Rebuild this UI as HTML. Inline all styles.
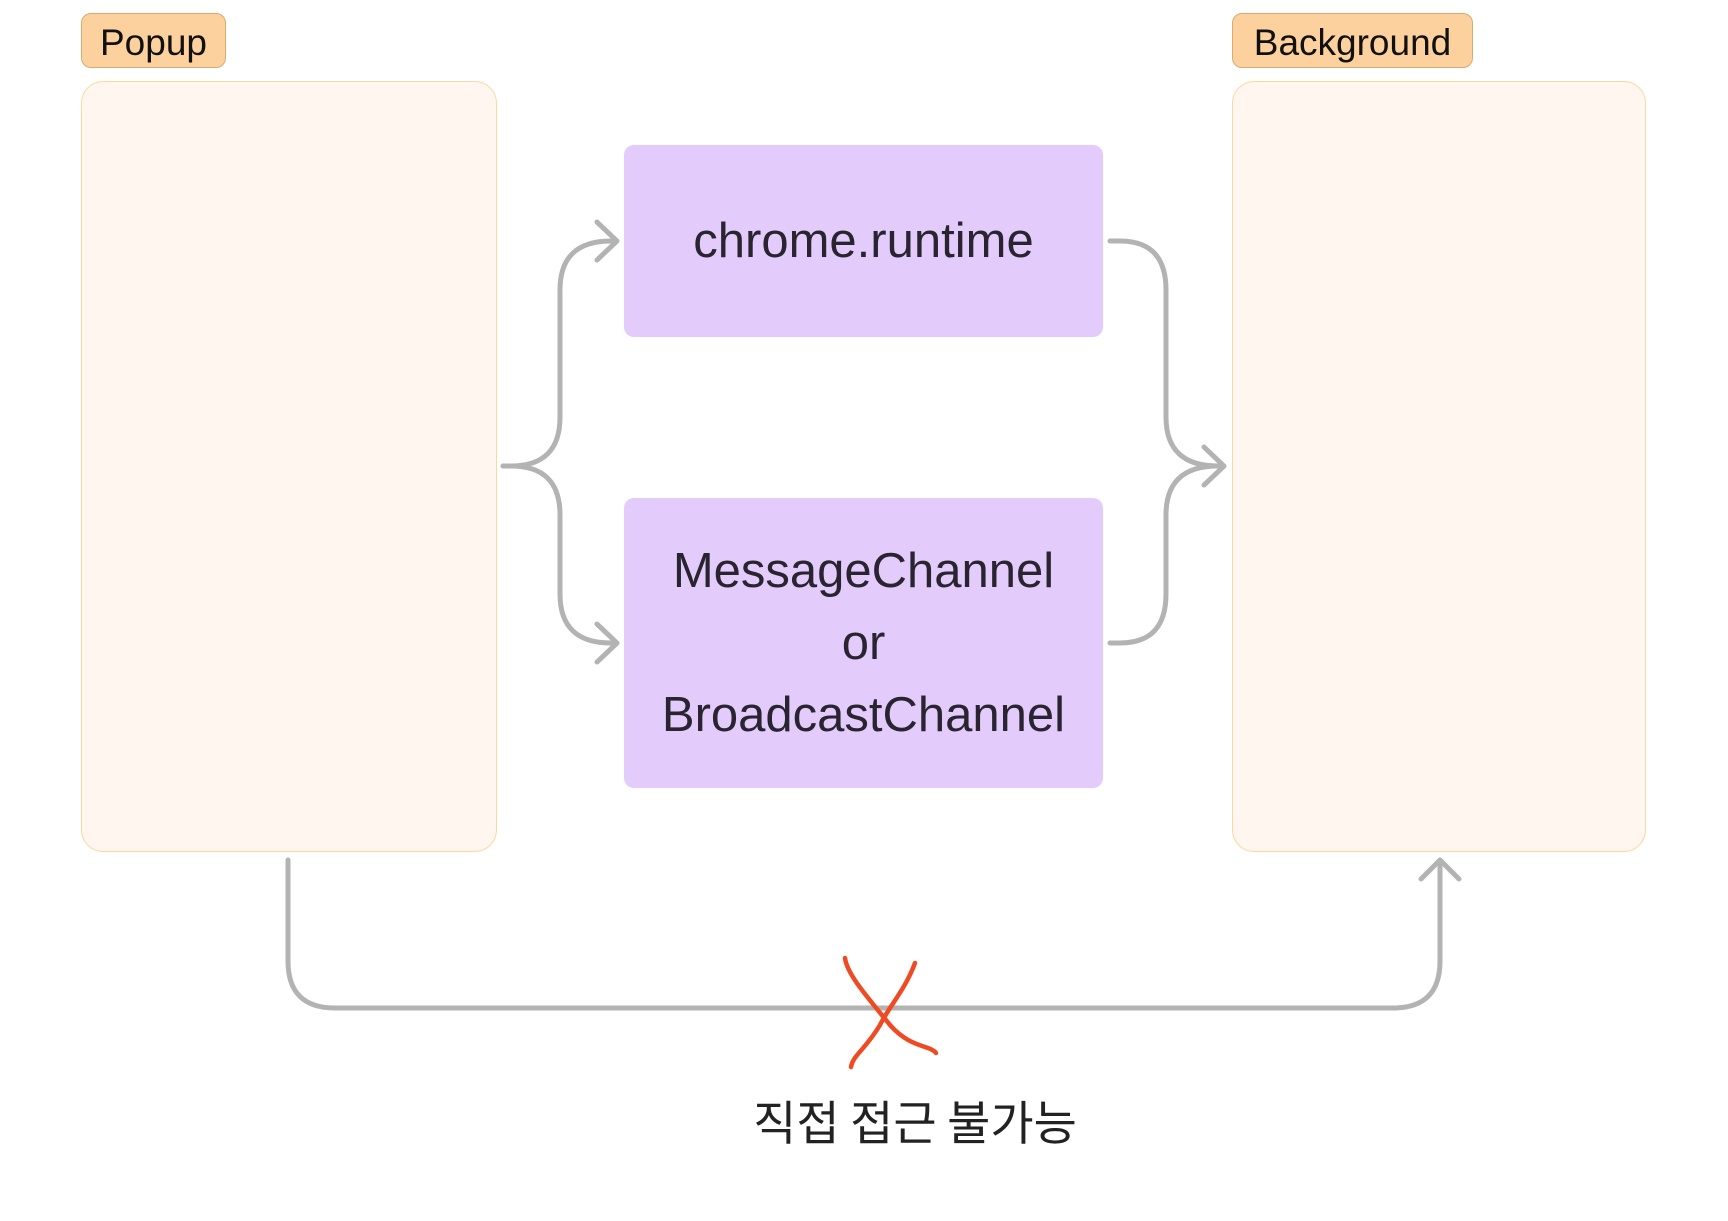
<!DOCTYPE html>
<html><head><meta charset="utf-8"><style>
html,body{margin:0;padding:0;background:#fff;}
body{width:1728px;height:1221px;position:relative;overflow:hidden;font-family:"Liberation Sans","Noto Sans CJK KR",sans-serif;}
.lbl{position:absolute;background:#fdd19d;border:1.5px solid #d9aa72;border-radius:10px;box-sizing:border-box;font-size:37px;color:#111;display:flex;align-items:center;justify-content:center;padding-top:4px;}
.box{position:absolute;background:#fff6f0;border:1.5px solid #fdd6a0;border-radius:22px;box-sizing:border-box;}
.p{position:absolute;background:#e3ccfc;border-radius:10px;display:flex;align-items:center;justify-content:center;text-align:center;font-size:49px;color:#2a2430;line-height:72px;}
</style></head><body>
<div class="lbl" style="left:81px;top:13px;width:145px;height:55px;">Popup</div>
<div class="lbl" style="left:1232px;top:13px;width:241px;height:55px;">Background</div>
<div class="box" style="left:81px;top:81px;width:416px;height:771px;"></div>
<div class="box" style="left:1232px;top:81px;width:414px;height:771px;"></div>
<div class="p" style="left:624px;top:145px;width:479px;height:192px;">chrome.runtime</div>
<div class="p" style="left:624px;top:498px;width:479px;height:290px;">MessageChannel<br>or<br>BroadcastChannel</div>
<svg width="1728" height="1221" style="position:absolute;left:0;top:0" fill="none" stroke="#b3b3b3" stroke-width="5" stroke-linecap="round" stroke-linejoin="round">
<path d="M503 466 H511 Q560 466 560 417 V290 Q560 241 611 241"/>
<path d="M597 222 L617 241 L597 260"/>
<path d="M503 466 H511 Q560 466 560 515 V594 Q560 643 611 643"/>
<path d="M597 624 L617 643 L597 662"/>
<path d="M1110 241 H1120 Q1166 241 1166 290 V417 Q1166 466 1218 466"/>
<path d="M1110 643 H1120 Q1166 643 1166 594 V515 Q1166 466 1218 466"/>
<path d="M1204 447 L1224 466 L1204 485"/>
<path d="M288 860 V961 Q288 1008 335 1008 H1393 Q1440 1008 1440 961 V860"/>
<path d="M1421 879 L1440 860 L1459 879"/>
<path d="M845 958 C847 975 870 1000 890 1025 C910 1048 930 1045 936 1053" stroke="#f04a23" stroke-width="4.5"/>
<path d="M915 963 C905 990 890 1005 880 1025 C865 1050 853 1055 851 1067" stroke="#f04a23" stroke-width="4.5"/>
</svg>
<div style="position:absolute;left:615px;width:600px;top:1090px;text-align:center;font-size:47px;color:#222;font-family:'Noto Sans CJK KR','Liberation Sans',sans-serif;line-height:60px;">직접 접근 불가능</div>
</body></html>
